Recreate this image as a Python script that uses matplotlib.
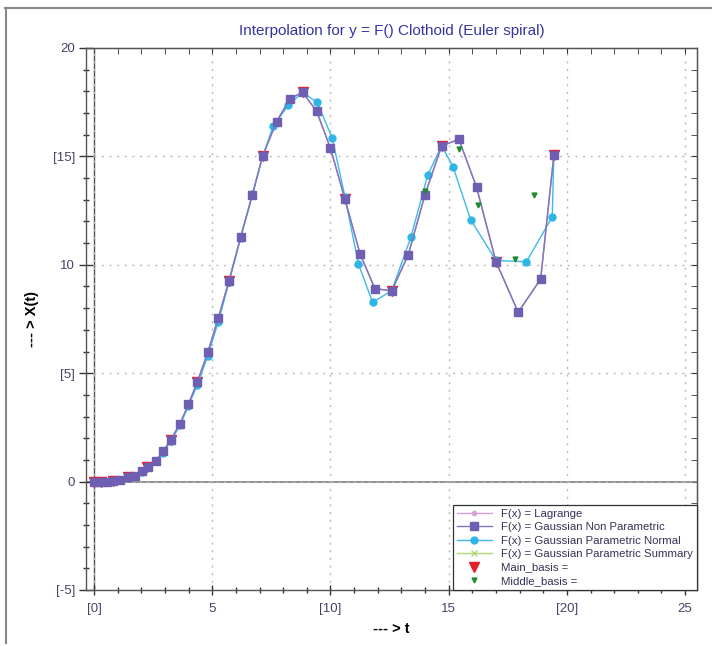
import numpy as np
import matplotlib
matplotlib.use("Agg")
import matplotlib.pyplot as plt
from matplotlib.lines import Line2D
from matplotlib.ticker import MultipleLocator, FixedLocator, FixedFormatter, NullFormatter

plt.rcParams['font.family'] = ['Liberation Sans', 'DejaVu Sans']

# Gaussian Non Parametric (also underlying Lagrange / Summary curves)
t_np = [0.0, 0.25, 0.54, 0.82, 1.10, 1.45, 1.73, 2.01, 2.30, 2.62, 2.93, 3.24,
        3.64, 3.99, 4.37, 4.81, 5.26, 5.71, 6.20, 6.70, 7.13, 7.72, 8.29, 8.82,
        9.41, 10.0, 10.61, 11.25, 11.88, 12.59, 13.29, 14.0, 14.70, 15.43,
        16.18, 17.0, 17.94, 18.89, 19.45]
x_np = [0.0, 0.0, 0.0, 0.02, 0.08, 0.20, 0.28, 0.48, 0.69, 0.97, 1.40, 1.93,
        2.67, 3.56, 4.60, 5.96, 7.56, 9.27, 11.27, 13.24, 15.02, 16.6, 17.67,
        17.95, 17.1, 15.37, 13.04, 10.51, 8.9, 8.80, 10.46, 13.24, 15.48,
        15.79, 13.58, 10.15, 7.81, 9.34, 15.05]

# Gaussian Parametric Normal
t_pn = [0.0, 0.25, 0.54, 0.82, 1.10, 1.45, 1.73, 2.01, 2.30, 2.62, 2.93, 3.24,
        3.64, 3.99, 4.37, 4.81, 5.26, 5.71, 6.20, 6.70, 7.13, 7.58, 8.22, 8.82,
        9.44, 10.08, 10.61, 11.18, 11.78, 12.59, 13.40, 14.11, 14.70, 15.19,
        15.93, 17.0, 18.29, 19.38, 19.45]
x_pn = [0.0, 0.0, 0.0, 0.02, 0.07, 0.18, 0.26, 0.45, 0.66, 0.93, 1.33, 1.85,
        2.60, 3.50, 4.45, 5.80, 7.38, 9.20, 11.25, 13.25, 15.0, 16.4, 17.36,
        17.95, 17.49, 15.83, 13.15, 10.05, 8.27, 8.80, 11.27, 14.12, 15.50,
        14.51, 12.08, 10.20, 10.14, 12.21, 15.05]

# basis points
t_main = [0.0, 0.3, 0.82, 1.45, 2.25, 3.24, 4.37, 5.71, 7.13, 8.82, 10.61,
          12.59, 14.70, 17.0, 19.45]
x_main = [0.0, 0.0, 0.02, 0.20, 0.66, 1.93, 4.60, 9.27, 15.02, 17.95, 13.04,
          8.80, 15.48, 10.15, 15.05]
t_mid = [14.0, 15.45, 16.25, 17.8, 18.6]
x_mid = [13.42, 15.32, 12.78, 10.26, 13.24]

xticks = [0, 5, 10, 15, 20, 25]
xlabels = ['[0]', '5', '[10]', '15', '[20]', '25']
yticks = [-5, 0, 5, 10, 15, 20]
ylabels = ['[-5]', '0', '[5]', '10', '[15]', '20']

fig = plt.figure(figsize=(7.12, 6.46), dpi=100)
ax = fig.add_axes([0.1208, 0.0867, 0.858, 0.839])

ax.plot(t_np, x_np, color='#d7a0d7', lw=1, marker='o', ms=3,
        label='F(x) = Lagrange', zorder=2)
ax.plot(t_np, x_np, color='#8373c4', lw=1, marker='s', ms=6,
        mfc='#6f5fb3', mec='#6f5fb3', label='F(x) = Gaussian Non Parametric', zorder=5)
ax.plot(t_pn, x_pn, color='#3cbbe8', lw=1, marker='o', ms=5,
        mfc='#2fb5e6', mec='#2fb5e6', label='F(x) = Gaussian Parametric Normal', zorder=4)
ax.plot(t_np, x_np, color='#b2d67a', lw=1, marker='x', ms=4,
        label='F(x) = Gaussian Parametric Summary', zorder=1)
ax.plot(t_main, x_main, ls='none', marker='v', ms=7, color='#e3202a',
        label='Main_basis =', zorder=3)
ax.plot(t_mid, x_mid, ls='none', marker='v', ms=3.5, color='#1f8a2f',
        label='Middle_basis =', zorder=6)

ax.set_xlim(-0.34, 25.5)
ax.set_ylim(-5, 20)

ax.axhline(0, color='#808080', lw=1.2, zorder=1)
ax.axvline(0, color='#505050', lw=1.0, zorder=1)

ax.xaxis.set_major_locator(FixedLocator(xticks))
ax.xaxis.set_major_formatter(FixedFormatter(xlabels))
ax.yaxis.set_major_locator(FixedLocator(yticks))
ax.yaxis.set_major_formatter(FixedFormatter(ylabels))
ax.xaxis.set_minor_locator(MultipleLocator(1))
ax.yaxis.set_minor_locator(MultipleLocator(1))
ax.tick_params(which='both', direction='inout', colors='#333333',
               labelcolor='#444466', labelsize=9.5)
ax.tick_params(axis='y', which='major', length=10, width=1, pad=3)
ax.tick_params(axis='y', which='minor', length=5, width=1)
ax.tick_params(axis='x', which='major', length=7, width=1, pad=6)
ax.tick_params(axis='x', which='minor', length=4.5, width=1)

# inward ticks on top and right
top = ax.secondary_xaxis('top')
top.xaxis.set_major_locator(FixedLocator(xticks))
top.xaxis.set_minor_locator(MultipleLocator(1))
top.xaxis.set_major_formatter(NullFormatter())
top.tick_params(which='both', direction='in', length=4, colors='#333333')
right = ax.secondary_yaxis('right')
right.yaxis.set_major_locator(FixedLocator(yticks))
right.yaxis.set_minor_locator(MultipleLocator(1))
right.yaxis.set_major_formatter(NullFormatter())
right.tick_params(which='both', direction='in', length=4, colors='#333333')
for sec in (top, right):
    for s in sec.spines.values():
        s.set_color('#555555')

ax.grid(True, which='major', color='#bbbbbb', ls=(0, (1.5, 4)), lw=1)

for s in ax.spines.values():
    s.set_color('#555555')
    s.set_linewidth(1)

ax.set_title('Interpolation for y = F() Clothoid (Euler spiral)', color='#3535a0',
             fontsize=11, pad=9)
ax.set_xlabel('--- > t', fontsize=10.5, fontweight='bold', labelpad=5)
ax.set_ylabel('--- > X(t)', fontsize=10.5, fontweight='bold', labelpad=10)

leg = ax.legend(loc='lower right', borderaxespad=0, fontsize=8.2, frameon=True,
                fancybox=False, framealpha=1, edgecolor='#333333',
                handlelength=3.1, labelspacing=0.3, borderpad=0.35)
leg.set_zorder(10)
leg.get_frame().set_linewidth(0.9)
for txt in leg.get_texts():
    txt.set_color('#333355')

# outer frame lines
fig.add_artist(Line2D([6/712, 6/712], [1 - 8/646, 1 - 643/646], color='#888888',
                      lw=1.5, transform=fig.transFigure))
fig.add_artist(Line2D([5/712, 1.0], [1 - 8/646, 1 - 8/646], color='#888888',
                      lw=1.5, transform=fig.transFigure))

fig.savefig('out.png', dpi=100)
